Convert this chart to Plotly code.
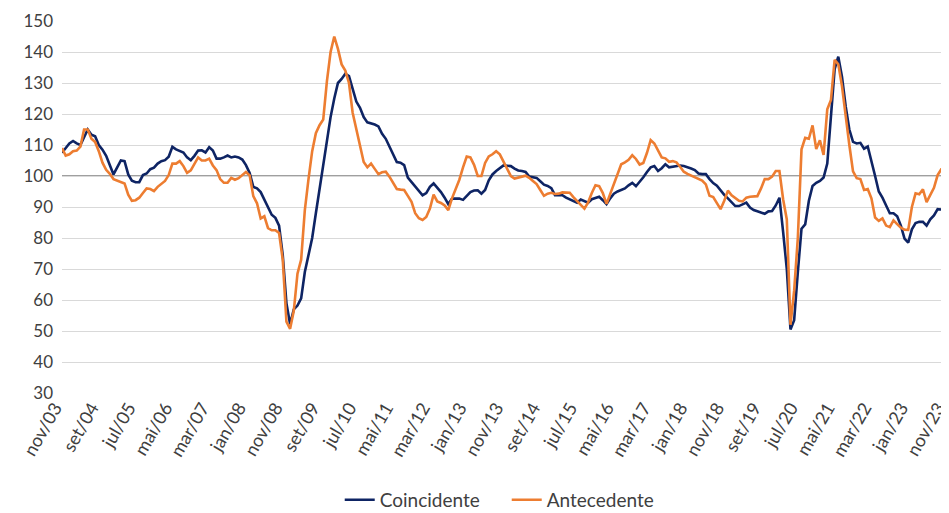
import plotly.graph_objects as go

MESES = ["jan", "fev", "mar", "abr", "mai", "jun", "jul", "ago", "set", "out", "nov", "dez"]
# monthly categories nov/03 .. nov/23
months = []
y, m = 2003, 10
while (y, m) <= (2023, 10):
    months.append(f"{MESES[m]}/{y % 100:02d}")
    m += 1
    if m == 12:
        m = 0
        y += 1

tick_labels = ["nov/03", "set/04", "jul/05", "mai/06", "mar/07", "jan/08", "nov/08", "set/09",
               "jul/10", "mai/11", "mar/12", "jan/13", "nov/13", "set/14", "jul/15", "mai/16",
               "mar/17", "jan/18", "nov/18", "set/19", "jul/20", "mai/21", "mar/22", "jan/23", "nov/23"]

coincidente = [
    107.5, 109.1, 110.5, 111.3, 110.5, 110.0, 112.5, 115.0, 113.3, 112.8,
    110.0, 108.5, 106.5, 103.5, 100.5, 102.8, 105.0, 104.8, 100.5, 98.5,
    98.0, 98.0, 100.3, 100.8, 102.2, 102.7, 104.0, 104.8, 105.1, 106.2,
    109.4, 108.6, 108.0, 107.6, 106.0, 105.1, 106.5, 108.2, 108.3, 107.6,
    109.3, 108.2, 105.6, 105.6, 106.0, 106.6, 106.0, 106.3, 106.0, 105.3,
    103.5, 101.0, 96.5, 96.0, 94.8, 92.5, 89.8, 87.5, 86.5, 84.0,
    74.5, 59.0, 52.2, 57.0, 58.2, 60.5, 69.0, 75.0, 80.0, 88.0,
    96.0, 102.5, 112.0, 119.0, 125.0, 130.0, 131.3, 133.0, 132.2, 128.0,
    124.0, 122.0, 119.0, 117.3, 117.0, 116.6, 116.0, 113.6, 112.0, 109.5,
    106.5, 104.5, 104.3, 103.5, 99.5, 98.0, 96.6, 95.2, 93.8, 94.5,
    96.5, 97.6, 96.3, 94.8, 93.0, 90.9, 92.7, 92.8, 92.7, 92.3,
    93.5, 94.8, 95.3, 95.4, 94.3, 95.5, 98.6, 100.5, 101.6, 102.6,
    103.4, 103.3, 103.2, 102.4, 101.8, 101.6, 101.3, 99.8, 99.6, 99.4,
    98.3, 97.2, 96.8, 96.1, 93.8, 93.8, 93.8, 93.0, 92.5, 92.0,
    91.4, 92.4, 91.8, 91.4, 92.5, 92.9, 93.3, 92.2, 90.9, 92.8,
    94.3, 95.0, 95.5, 96.0, 97.0, 97.8, 96.7, 98.0, 99.6, 101.3,
    102.8, 103.2, 101.6, 102.5, 103.8, 102.8, 103.0, 103.4, 103.4, 103.2,
    102.9, 102.4, 101.9, 100.8, 100.6, 100.6, 99.0, 97.7, 96.9, 95.2,
    93.9, 92.8, 91.5, 90.3, 90.3, 90.8, 91.4, 89.8, 89.0, 88.6,
    88.2, 87.8, 88.6, 88.7, 90.5, 93.0, 82.0, 70.0, 50.5, 53.5,
    69.0, 83.0, 84.4, 92.0, 96.8, 97.8, 98.4, 99.5, 104.0, 120.0,
    134.5, 138.5, 132.0, 122.5, 115.0, 111.0, 110.5, 110.7, 108.8, 109.5,
    105.0, 100.0, 95.0, 93.0, 90.5, 88.0, 88.0, 87.0, 84.0, 79.8,
    78.5, 82.8, 84.8, 85.2, 85.2, 84.0, 86.0, 87.3, 89.3, 89.2,
    90.6,
]

antecedente = [
    109.0, 106.6, 107.0, 108.0, 108.2, 109.5, 115.0, 115.0, 112.0, 111.0,
    108.0, 104.3, 102.0, 100.7, 99.0, 98.5, 98.0, 97.6, 94.0, 92.0,
    92.2, 93.0, 94.5, 96.0, 95.8, 95.1, 96.5, 97.5, 98.4, 100.3,
    104.0, 104.0, 104.8, 103.2, 101.0, 101.8, 103.7, 106.0, 105.0, 105.0,
    105.6, 103.4, 101.9, 99.0, 97.8, 97.8, 99.4, 98.8, 99.3, 100.4,
    101.3, 100.2, 93.5, 91.2, 86.3, 87.0, 83.2, 82.5, 82.5, 81.6,
    73.0, 53.0, 50.7, 56.5, 68.5, 73.0, 89.0, 99.0, 108.0, 113.8,
    116.4, 118.2, 130.5, 140.0, 145.0, 141.0, 136.0, 134.0, 130.0, 120.4,
    115.0, 109.0, 104.5, 102.8, 104.0, 102.3, 100.6, 101.2, 101.4, 99.8,
    97.6, 95.8, 95.6, 95.5, 93.6, 91.7, 88.0, 86.4, 85.8, 86.8,
    89.5, 94.0, 91.8, 91.3, 90.5, 89.0, 92.8, 95.5, 98.8, 102.8,
    106.3, 106.0, 103.6, 100.0, 100.0, 104.2, 106.3, 107.0, 108.0, 107.0,
    104.5, 102.0, 100.0, 99.2, 99.6, 99.8, 100.1, 99.4, 98.4, 97.4,
    95.5, 93.6, 94.3, 94.6, 94.2, 94.3, 94.7, 94.7, 94.6, 93.2,
    92.1, 90.7, 89.5, 91.5, 94.5, 97.0, 96.7, 94.5, 91.0, 94.3,
    97.4, 100.3, 103.8, 104.4, 105.2, 106.7, 105.5, 103.7, 104.2, 107.5,
    111.6, 110.5, 108.0, 106.0, 105.7, 104.6, 104.8, 104.4, 103.0, 101.4,
    100.7, 100.2, 99.5, 99.0, 98.5, 97.3, 93.6, 93.2, 91.0, 89.3,
    92.0, 95.3, 93.8, 92.8, 92.0, 91.8, 93.0, 93.3, 93.3, 93.5,
    96.0, 99.0, 99.0, 99.8, 101.6, 101.6, 92.5, 86.0, 52.0, 63.0,
    80.0, 108.6, 112.3, 112.0, 116.3, 108.7, 111.5, 106.8, 121.5, 124.5,
    137.5, 136.0, 129.0, 119.0, 110.0, 101.5, 99.3, 99.0, 95.5, 95.8,
    92.8, 86.6, 85.5, 86.3, 84.0, 83.5, 85.7, 84.5, 83.3, 82.7,
    82.6, 90.0, 94.4, 94.1, 95.7, 91.6, 93.8, 96.2, 100.3, 102.2,
    102.5,
]

BASELINE = 100
FONT = "Lato"

fig = go.Figure()
fig.add_trace(go.Scatter(x=months, y=coincidente, mode="lines", name="Coincidente",
                         line=dict(color="#0E2464", width=2.6)))
fig.add_trace(go.Scatter(x=months, y=antecedente, mode="lines", name="Antecedente",
                         line=dict(color="#ED7D31", width=2.6)))
fig.add_hline(y=BASELINE, line=dict(color="#7F7F7F", width=1.3), layer="below")

# the page body adds an 8px offset, so the figure is sized to the remaining viewport
fig.update_layout(
    width=941, height=505,
    margin=dict(l=54, r=4, t=13, b=120, autoexpand=False),
    paper_bgcolor="white", plot_bgcolor="white",
    font=dict(family=FONT, size=17, color="#404040"),
    showlegend=True,
    legend=dict(orientation="h", x=0.53, xref="container", xanchor="center",
                y=0.026, yref="container", yanchor="middle",
                itemwidth=30, entrywidth=122,
                font=dict(size=19, color="#404040"), tracegroupgap=0),
)
fig.update_xaxes(
    type="category", range=[0, len(months) - 1], automargin=False,
    tickmode="array", tickvals=tick_labels, ticktext=tick_labels,
    tickangle=-60, ticklabelshift=-7,
    showgrid=False, showline=False, zeroline=False,
    tickfont=dict(size=18, color="#404040"),
)
fig.update_yaxes(
    range=[30, 150], dtick=10, tick0=30, automargin=False,
    showgrid=True, gridcolor="#D9D9D9", gridwidth=1,
    zeroline=False, showline=False, ticklabelstandoff=8,
    tickfont=dict(size=17, color="#404040"),
)

fig.write_html("out.html")
